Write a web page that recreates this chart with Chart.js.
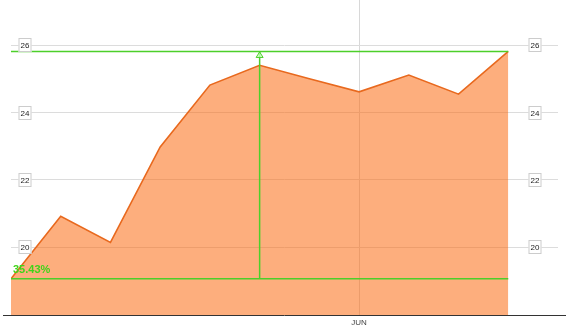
<!DOCTYPE html>
<html>
<head>
<title>Price chart</title>
<script src="https://cdn.jsdelivr.net/npm/chart.js@4.4.0/dist/chart.umd.min.js"></script>
<style>
  html, body { margin: 0; padding: 0; background: #fff; }
  #wrap { width: 570px; height: 331px; }
</style>
</head>
<body>
<div id="wrap"><canvas id="chart"></canvas></div>
<script>
// data
const values = [19.06, 20.92, 20.14, 22.98, 24.82, 25.41, 25.01, 24.62, 25.12, 24.55, 25.82];
const tickLabels = ['', '', '', '', '', '', '', 'JUN', '', '', ''];
const yTicks = [20, 22, 24, 26];
const markerIndex = 5;
const changeLabel = '35.43%';

const startValue = values[0];
const topValue = Math.max(...values);
const lastIndex = values.length - 1;
const green = '#4ccf2a';

const series = values.map((v, i) => ({ x: i, y: v }));

// y labels in little boxes on both sides, bottom axis line, arrow and % text
const overlay = {
  id: 'overlay',
  afterDraw(chart) {
    const ctx = chart.ctx;
    const area = chart.chartArea;
    const xs = chart.scales.x;
    const ys = chart.scales.y;

    ctx.save();
    ctx.strokeStyle = '#333';
    ctx.lineWidth = 1;
    ctx.beginPath();
    ctx.moveTo(area.left - 8, Math.round(area.bottom) + 0.5);
    ctx.lineTo(area.right + 8, Math.round(area.bottom) + 0.5);
    ctx.stroke();

    ctx.font = '8px "Liberation Sans", Arial, sans-serif';
    ctx.textAlign = 'center';
    ctx.textBaseline = 'middle';
    yTicks.forEach(v => {
      const y = Math.round(ys.getPixelForValue(v));
      [area.left + 14, area.right - 23].forEach(cx => {
        ctx.fillStyle = '#fff';
        ctx.fillRect(cx - 6.5, y - 7, 13, 14);
        ctx.strokeStyle = '#ccc';
        ctx.strokeRect(cx - 6.5 + 0.5, y - 7 + 0.5, 12, 13);
        ctx.fillStyle = '#222';
        ctx.fillText(String(v), cx, y + 0.5);
      });
    });

    // arrow head at the top of the vertical marker
    const ax = xs.getPixelForValue(markerIndex);
    const ay = ys.getPixelForValue(topValue);
    ctx.strokeStyle = green;
    ctx.fillStyle = 'rgba(200,255,190,0.8)';
    ctx.beginPath();
    ctx.moveTo(ax, ay + 0.5);
    ctx.lineTo(ax - 3.5, ay + 6);
    ctx.lineTo(ax + 3.5, ay + 6);
    ctx.closePath();
    ctx.fill();
    ctx.stroke();

    // change text
    const sx = xs.getPixelForValue(0);
    const sy = ys.getPixelForValue(startValue);
    ctx.font = 'bold 11px "Liberation Sans", Arial, sans-serif';
    ctx.textAlign = 'left';
    ctx.textBaseline = 'middle';
    ctx.fillStyle = '#3fd41a';
    ctx.fillText(changeLabel, sx + 2, sy - 9);
    ctx.restore();
  }
};

new Chart(document.getElementById('chart'), {
  type: 'line',
  data: {
    datasets: [
      {
        data: series,
        borderColor: '#e8691e',
        borderWidth: 1.6,
        backgroundColor: 'rgba(251,108,19,0.55)',
        fill: 'start',
        pointRadius: 0,
        tension: 0,
        order: 3
      },
      {
        data: [{ x: 0, y: topValue }, { x: lastIndex, y: topValue }],
        borderColor: green, borderWidth: 1.5, pointRadius: 0, fill: false, order: 1
      },
      {
        data: [{ x: 0, y: startValue }, { x: lastIndex, y: startValue }],
        borderColor: green, borderWidth: 1.5, pointRadius: 0, fill: false, order: 1
      },
      {
        data: [{ x: markerIndex, y: startValue }, { x: markerIndex, y: topValue }],
        borderColor: green, borderWidth: 1.5, pointRadius: 0, fill: false, order: 1
      }
    ]
  },
  options: {
    responsive: true,
    maintainAspectRatio: false,
    animation: false,
    layout: { padding: { left: 11, right: 12, top: 0, bottom: 0 } },
    plugins: { legend: { display: false }, tooltip: { enabled: false } },
    scales: {
      x: {
        type: 'linear',
        min: 0,
        max: values.length,
        afterBuildTicks: s => {
          s.ticks = tickLabels.map((l, i) => l ? { value: i } : null).filter(Boolean);
        },
        grid: { color: '#d8d8d8', drawTicks: false },
        border: { display: false },
        ticks: {
          padding: 3,
          color: '#444',
          font: { size: 8, family: '"Liberation Sans", Arial, sans-serif' },
          callback: v => tickLabels[v] || ''
        }
      },
      y: {
        min: 17.97,
        max: 27.35,
        afterBuildTicks: s => { s.ticks = yTicks.map(v => ({ value: v })); },
        grid: { color: '#dcdcdc', drawTicks: false },
        border: { display: false },
        ticks: { display: false }
      }
    }
  },
  plugins: [overlay]
});
</script>
</body>
</html>
